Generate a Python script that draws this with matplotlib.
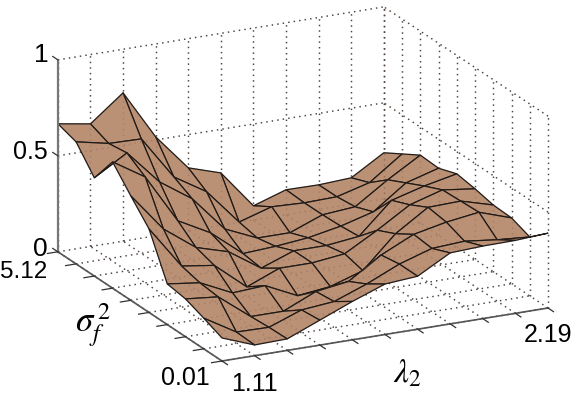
import numpy as np
import matplotlib
matplotlib.use('Agg')
import matplotlib.pyplot as plt
from mpl_toolkits.mplot3d import proj3d

plt.rcParams['font.family'] = ['Liberation Sans', 'DejaVu Sans']
plt.rcParams['mathtext.fontset'] = 'stix'

lambda_labels = ['1.11', '2.19']
sigma_labels = ['0.01', '5.12']
z_ticks = [0, 0.5, 1]
z_labels = ['0', '0.5', '1']

# rows: sigma index 0 (0.01) .. 9 (5.12), columns: lambda index 0 (1.11) .. 10 (2.19)
z0 = [.120, .056, .060, .130, .200, .263, .276, .370, .378, .380, .390]
z1 = [.160, .060, .057, .120, .136, .200, .276, .330, .340, .320, .307]
z2 = [.197, .180, .050, .050, .125, .150, .260, .340, .376, .400, .343]
z3 = [.212, .190, .110, .120, .040, .060, .115, .280, .390, .395, .347]
z4 = [.435, .214, .190, .050, .120, .120, .140, .235, .340, .390, .368]
z5 = [.544, .344, .220, .170, .057, .120, .120, .140, .300, .347, .383]
z6 = [.658, .552, .296, .206, .070, .080, .097, .130, .177, .300, .349]
z7 = [.512, .614, .435, .320, .135, .060, .060, .126, .140, .253, .354]
z8 = [.636, .600, .596, .370, .266, .080, .132, .125, .129, .175, .297]
z9 = [.667, .639, .773, .516, .327, .273, .074, .130, .128, .137, .240]

Z = np.array([z0, z1, z2, z3, z4, z5, z6, z7, z8, z9])
nx = Z.shape[1]
ny = Z.shape[0]
X, Y = np.meshgrid(np.arange(nx), np.arange(ny))

W, H = 581, 396
fig = plt.figure(figsize=(W / 100, H / 100), dpi=100)
S = 400
ax = fig.add_axes([0, 0, S / W, S / H], projection='3d', proj_type='ortho')
ax.view_init(elev=19.2, azim=-116.3)
ax.set_box_aspect((363.6, 370.4, 203.2))
ax.set_xlim(0, nx - 1)
ax.set_ylim(0, ny - 1)
ax.set_zlim(0, 1)
ax.set_axis_off()
ax.computed_zorder = False


def corner_px(x, y, z):
    xs, ys, _ = proj3d.proj_transform(x, y, z, ax.get_proj())
    return ax.transData.transform((xs, ys))


# fit the box onto the corners of the reference
ax.apply_aspect()
a = corner_px(0, 0, 0)
b = corner_px(nx - 1, 0, 0)
S = S * (548 - 222) / (b[0] - a[0])
ax.set_position([0, 0, S / W, S / H])
ax.apply_aspect()
a = corner_px(0, 0, 0)
ax.set_position([(222 - a[0]) / W, (35 - a[1]) / H, S / W, S / H])
ax.apply_aspect()

dots = dict(linestyle=(0, (1, 3)), linewidth=1.0)


def grid_lines(color, zorder, alpha=1.0):
    xm, ym = nx - 1, ny - 1
    st = dict(color=color, zorder=zorder, alpha=alpha, **dots)
    for i in range(nx):
        ax.plot([i, i], [0, ym], [0, 0], **st)
        ax.plot([i, i], [ym, ym], [0, 1], **st)
    for j in range(ny):
        ax.plot([0, xm], [j, j], [0, 0], **st)
        ax.plot([xm, xm], [j, j], [0, 1], **st)
    for z in z_ticks[1:]:
        ax.plot([0, xm], [ym, ym], [z, z], **st)
        ax.plot([xm, xm], [0, ym], [z, z], **st)


grid_lines('#444444', 1)

ax.plot_surface(X, Y, Z, rstride=1, cstride=1, color='#bb9176', edgecolor='#111111',
                linewidth=0.8, shade=False, antialiased=True, zorder=2)
# the surface is slightly see-through in the reference
ax.plot_wireframe(X, Y, Z, rstride=1, cstride=1, color='#3a2a20', linewidth=1.0,
                  alpha=0.3, zorder=3)
grid_lines('#6b4a38', 3, alpha=0.3)

# box edges and ticks
axis_st = dict(color='#777777', linewidth=1.6, zorder=4)
ax.plot([0, 0], [ny - 1, ny - 1], [0, 1], **axis_st)
edge_st = dict(color='#555555', linewidth=1.2, zorder=4)
ax.plot([0, 0], [0, ny - 1], [0, 0], **edge_st)
ax.plot([0, nx - 1], [0, 0], [0, 0], **edge_st)
tick_st = dict(color='#333333', linewidth=0.9, zorder=4)
for j in range(ny):
    ax.plot([0, -0.32], [j, j], [0, 0], **tick_st)
for i in range(nx):
    ax.plot([i, i], [0, -0.3], [0, 0], **tick_st)
for z in z_ticks:
    ax.plot([0, 0], [ny - 1, ny - 0.72], [z, z], **tick_st)


def put(px, py, s, size, **kw):
    fig.text(px / W, 1 - py / H, s, fontsize=size, ha='center', va='center', **kw)


put(41, 55, z_labels[2], 19)
put(30, 152, z_labels[1], 18)
put(40, 249, z_labels[0], 19)
put(24, 272, sigma_labels[1], 17.5)
put(185, 378, sigma_labels[0], 18)
put(254, 384, lambda_labels[0], 18)
put(548, 335, lambda_labels[1], 18)
put(93, 325, r'$\sigma_f^{\,2}$', 25)
put(407, 374, r'$\lambda_2$', 24)

fig.savefig('out.png', dpi=100)
